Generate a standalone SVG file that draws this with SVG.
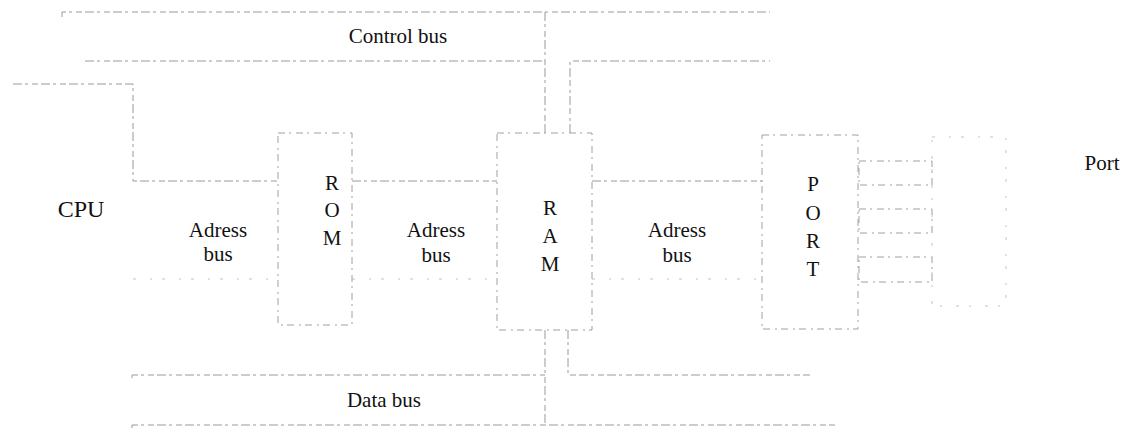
<svg xmlns="http://www.w3.org/2000/svg" width="1129" height="446" viewBox="0 0 1129 446">
<style>
text{font-family:'Liberation Serif','Times New Roman',serif;fill:#111;font-size:21px;text-anchor:middle}
.ln{fill:none;stroke:#9a9a9a;stroke-width:1;stroke-dasharray:9 3 3 4 6 3}
.lt{fill:none;stroke:#c4c4c4;stroke-width:1;stroke-dasharray:3 14 2 10}
.bx{fill:none;stroke:#a0a0a0;stroke-width:1;stroke-dasharray:7 4 2 5}
</style>
<rect width="1129" height="446" fill="#fff"/>
<g id="connectors">
<path class="ln" d="M62,17 V12 H770"/>
<path class="ln" d="M85,61 H545"/>
<path class="ln" d="M545,12 V133"/>
<path class="ln" d="M570,133 V61 H770"/>
<path class="ln" d="M13,84 H133 V181 H278"/>
<path class="ln" d="M352,181 H497"/>
<path class="ln" d="M592,181 H762"/>
<path class="lt" d="M133,279 H278"/>
<path class="lt" d="M352,279 H497"/>
<path class="lt" d="M592,279 H762"/>
<path class="ln" d="M132,378 V375 H545"/>
<path class="ln" d="M132,428 V425 H835"/>
<path class="ln" d="M545,330 V425"/>
<path class="ln" d="M568,330 V375 H810"/>
</g>
<g id="control-bus" font-family="Liberation Serif, serif"><text x="398" y="43">Control bus</text></g>
<g id="cpu" font-family="Liberation Serif, serif"><text x="81" y="217" style="font-size:24px">CPU</text></g>
<g id="adress-bus-1" font-family="Liberation Serif, serif"><text x="218" y="237">Adress</text><text x="218" y="261">bus</text></g>
<g id="rom" font-family="Liberation Serif, serif">
<rect class="bx" x="278" y="133" width="74" height="192"/>
<text x="332" y="190">R</text><text x="332" y="217">O</text><text x="332" y="245">M</text>
</g>
<g id="adress-bus-2" font-family="Liberation Serif, serif"><text x="436" y="237">Adress</text><text x="436" y="262">bus</text></g>
<g id="ram" font-family="Liberation Serif, serif">
<rect class="bx" x="497" y="133" width="95" height="197"/>
<text x="550" y="215">R</text><text x="550" y="243">A</text><text x="550" y="271">M</text>
</g>
<g id="adress-bus-3" font-family="Liberation Serif, serif"><text x="677" y="237">Adress</text><text x="677" y="262">bus</text></g>
<g id="port-chip" font-family="Liberation Serif, serif">
<rect class="bx" x="762" y="135" width="96" height="194"/>
<text x="813" y="191">P</text><text x="813" y="220">O</text><text x="813" y="248">R</text><text x="813" y="276">T</text>
</g>
<g id="port-lines">
<rect class="bx" x="859" y="161" width="73" height="24"/>
<rect class="bx" x="859" y="209" width="73" height="24"/>
<rect class="bx" x="859" y="257" width="73" height="25"/>
<rect class="lt" x="932" y="137" width="74" height="169"/>
</g>
<g id="port" font-family="Liberation Serif, serif"><text x="1102" y="170">Port</text></g>
<g id="data-bus" font-family="Liberation Serif, serif"><text x="384" y="407">Data bus</text></g>
</svg>
